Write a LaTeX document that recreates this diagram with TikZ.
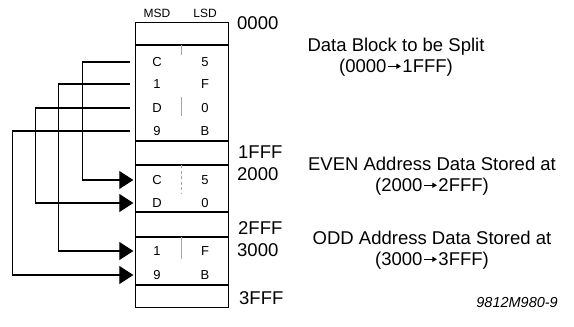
\documentclass[tikz,border=0pt]{standalone}
\usepackage{fontspec}
\setmainfont{Liberation Sans}
\usetikzlibrary{arrows.meta}
\newcommand{\rarr}{\hspace{1pt}\tikz[baseline=0pt,x=1pt,y=1pt]\draw[line width=1pt,-{Triangle[length=4.5pt,width=5pt]}] (0,6) -- (13,6);\hspace{1pt}}
\begin{document}
\begin{tikzpicture}[x=1pt,y=-1pt,
  cell/.style={font=\fontsize{13}{13}\selectfont, inner sep=0pt},
  hdr/.style={font=\fontsize{12}{12}\selectfont, inner sep=0pt},
  addr/.style={font=\fontsize{18.5}{18}\selectfont, anchor=west, inner sep=0pt},
  desc/.style={font=\fontsize{18.5}{21}\selectfont, align=center, inner sep=0pt},
  rowbox/.style={minimum width=93pt, minimum height=22pt, inner sep=0pt},
  conn/.style={line width=1.1pt},
  arr/.style={conn, -{Triangle[length=14pt,width=18pt]}, shorten >=1.5pt},
  membox/.style={line width=1.1pt},
  divider/.style={gray!70, line width=0.7pt}]
\useasboundingbox (0,0) rectangle (574,327);
% memory box
\node[draw, membox, minimum width=93pt, minimum height=285pt, anchor=north west, inner sep=0pt] (mem) at (135,22) {};
\foreach \y in {45,141,165,212,237,285} \draw[membox] (135,\y) -- (228,\y);
% dividers
\draw[divider] (181,45) -- (181,55);
\draw[divider] (181,97) -- (181,116);
\draw[divider, dash pattern=on 3pt off 2.5pt] (181,165) -- (181,193);
\draw[divider] (181,237) -- (181,259);
% headers
\node[hdr] (msd) at (157,13) {MSD};
\node[hdr] (lsd) at (205,13) {LSD};
% source rows
\node[rowbox] (a1) at (181.5,62) {};
\node[rowbox] (a2) at (181.5,84) {};
\node[rowbox] (a3) at (181.5,108) {};
\node[rowbox] (a4) at (181.5,131) {};
\node[cell] (a1m) at (157,62) {C};  \node[cell] (a1l) at (205,62) {5};
\node[cell] (a2m) at (157,84) {1};  \node[cell] (a2l) at (205,84) {F};
\node[cell] (a3m) at (157,108) {D}; \node[cell] (a3l) at (205,108) {0};
\node[cell] (a4m) at (157,131) {9}; \node[cell] (a4l) at (205,131) {B};
% even rows
\node[rowbox] (e1) at (181.5,180) {};
\node[rowbox] (e2) at (181.5,203) {};
\node[cell] (e1m) at (157,180) {C}; \node[cell] (e1l) at (205,180) {5};
\node[cell] (e2m) at (157,203) {D}; \node[cell] (e2l) at (205,203) {0};
% odd rows
\node[rowbox] (o1) at (181.5,251) {};
\node[rowbox] (o2) at (181.5,275) {};
\node[cell] (o1m) at (157,251) {1}; \node[cell] (o1l) at (205,251) {F};
\node[cell] (o2m) at (157,275) {9}; \node[cell] (o2l) at (205,275) {B};
% connectors
\draw[arr] ([xshift=-5pt]a1.west) -- ++(-47,0) |- (e1.west);
\draw[arr] ([xshift=-5pt]a2.west) -- ++(-71,0) |- (o1.west);
\draw[arr] ([xshift=-5pt]a3.west) -- ++(-94,0) |- (e2.west);
\draw[arr] ([xshift=-5pt]a4.west) -- ++(-117,0) |- (o2.west);
% address labels
\node[addr] (ad0) at (237,23) {0000};
\node[addr] (ad1) at (238,152) {1FFF};
\node[addr] (ad2) at (237,174) {2000};
\node[addr] (ad3) at (238,228) {2FFF};
\node[addr] (ad4) at (237,250) {3000};
\node[addr] (ad5) at (239,298) {3FFF};
% descriptions
\node[desc] (d1) at (396,57) {Data Block to be Split\\(0000\rarr1FFF)};
\node[desc] (d2) at (432,176) {EVEN Address Data Stored at\\(2000\rarr2FFF)};
\node[desc] (d3) at (432,250) {ODD Address Data Stored at\\(3000\rarr3FFF)};
\node[font=\fontsize{14.5}{15}\selectfont\itshape, anchor=east, inner sep=0pt] (fig) at (558,303) {9812M980-9};
\end{tikzpicture}
\end{document}
